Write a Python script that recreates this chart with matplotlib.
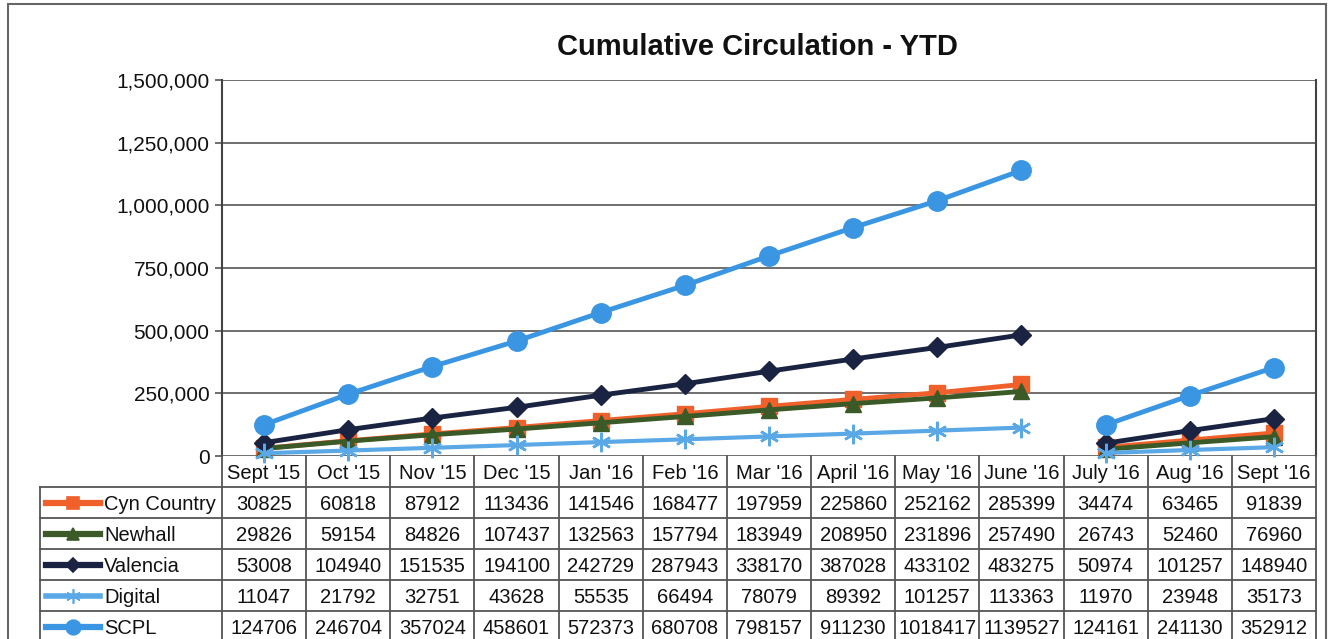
import numpy as np
import matplotlib.pyplot as plt
from matplotlib.lines import Line2D
from matplotlib.patches import Rectangle
from matplotlib.ticker import FuncFormatter

plt.rcParams['font.family'] = ['Liberation Sans', 'DejaVu Sans']

months = ["Sept '15", "Oct '15", "Nov '15", "Dec '15", "Jan '16", "Feb '16", "Mar '16",
          "April '16", "May '16", "June '16", "July '16", "Aug '16", "Sept '16"]

cyn_country = [30825, 60818, 87912, 113436, 141546, 168477, 197959, 225860, 252162, 285399, 34474, 63465, 91839]
newhall = [29826, 59154, 84826, 107437, 132563, 157794, 183949, 208950, 231896, 257490, 26743, 52460, 76960]
valencia = [53008, 104940, 151535, 194100, 242729, 287943, 338170, 387028, 433102, 483275, 50974, 101257, 148940]
digital = [11047, 21792, 32751, 43628, 55535, 66494, 78079, 89392, 101257, 113363, 11970, 23948, 35173]
scpl = [124706, 246704, 357024, 458601, 572373, 680708, 798157, 911230, 1018417, 1139527, 124161, 241130, 352912]

series = [
    ("Cyn Country", cyn_country, "#f0602a", "s", 11, 3.5),
    ("Newhall", newhall, "#3b5a28", "^", 11, 3.5),
    ("Valencia", valencia, "#1b2343", "D", 10, 3.5),
    ("Digital", digital, "#5aa8e6", (6, 2, 0), 14, 3.0),
    ("SCPL", scpl, "#3a96e2", "o", 14, 3.5),
]

W, H = 1328, 639
fig = plt.figure(figsize=(W / 100, H / 100), dpi=100)


def px_axes(x0, y0, x1, y1):
    return fig.add_axes([x0 / W, 1 - y1 / H, (x1 - x0) / W, (y1 - y0) / H])


# outer frame
fig.patches.append(Rectangle((8 / W, -0.05), (1326 - 8) / W, 1 - 4 / H + 0.05,
                             transform=fig.transFigure, fill=False,
                             edgecolor="#666666", linewidth=1.5))

fig.text(757 / W, 1 - 47 / H, "Cumulative Circulation - YTD", ha="center", va="center",
         fontsize=21, fontweight="bold", color="#111111")

# chart
ax = px_axes(222, 80, 1316, 456)
x = np.arange(len(months))
split = 10
for name, vals, color, marker, ms, lw in series:
    vals = np.array(vals, dtype=float)
    for sl in (slice(0, split), slice(split, None)):
        ax.plot(x[sl], vals[sl], color=color, marker=marker, markersize=ms, linewidth=lw,
                markeredgewidth=1.8 if marker == (6, 2, 0) else 1, markeredgecolor=color,
                clip_on=False, zorder=3)

ax.set_xlim(-0.5, len(months) - 0.5)
ax.set_ylim(0, 1500000)
ax.set_yticks(np.arange(0, 1500001, 250000))
ax.yaxis.set_major_formatter(FuncFormatter(lambda v, p: f"{int(v):,}"))
ax.tick_params(axis="y", labelsize=15, length=5, width=1.2, color="#555555", pad=4,
               labelcolor="#111111")
ax.set_xticks([])
ax.grid(axis="y", color="#555555", linewidth=1.2)
ax.set_axisbelow(True)
for side in ("top", "bottom"):
    ax.spines[side].set_visible(False)
for side in ("left", "right"):
    ax.spines[side].set_color("#444444")
    ax.spines[side].set_linewidth(1.5)

# data table
tab = px_axes(40, 456, 1316, 642)
legw = 182 / ((1316 - 222) / len(months))
x_left = -0.5 - legw
tab.set_xlim(x_left, len(months) - 0.5)
tab.set_ylim(6, 0)
tab.axis("off")
lc = "#555555"
fs = 14.5
for r in range(1, 7):
    tab.plot([x_left, len(months) - 0.5], [r, r], color=lc, linewidth=1.3, clip_on=False)
for k in range(len(months) + 1):
    tab.plot([k - 0.5, k - 0.5], [0, 6], color=lc, linewidth=1.3, clip_on=False)
tab.plot([x_left, x_left], [1, 6], color=lc, linewidth=1.3, clip_on=False)

for i, m in enumerate(months):
    tab.text(i, 0.55, m, ha="center", va="center", fontsize=fs, color="#111111")

for r, (name, vals, color, marker, ms, lw) in enumerate(series, start=1):
    for i, v in enumerate(vals):
        tab.text(i, r + 0.55, str(v), ha="center", va="center", fontsize=fs, color="#111111")
    tab.add_line(Line2D([x_left + 0.071, x_left + 0.713], [r + 0.5, r + 0.5], color=color,
                        linewidth=lw + 1))
    tab.add_line(Line2D([x_left + 0.392], [r + 0.5], color=color, marker=marker,
                        markersize=ms * 0.75, markeredgecolor=color, markeredgewidth=1.2))
    tab.text(x_left + 0.76, r + 0.55, name, ha="left", va="center", fontsize=fs, color="#111111")

fig.savefig("out.png", dpi=100)
